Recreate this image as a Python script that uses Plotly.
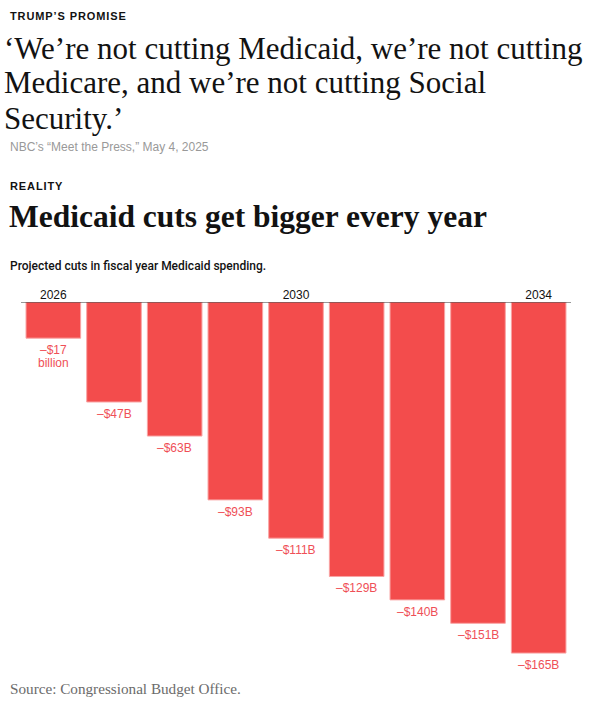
import plotly.graph_objects as go

# ---- data ----
years = [2026, 2027, 2028, 2029, 2030, 2031, 2032, 2033, 2034]
cuts = [-17, -47, -63, -93, -111, -129, -140, -151, -165]  # billions of dollars
bar_labels = [["–$17", "billion"], ["–$47B"], ["–$63B"], ["–$93B"], ["–$111B"],
              ["–$129B"], ["–$140B"], ["–$151B"], ["–$165B"]]
tick_years = [2026, 2030, 2034]

kicker1 = "TRUMP’S PROMISE"
quote_lines = ["‘We’re not cutting Medicaid, we’re not cutting",
               "Medicare, and we’re not cutting Social",
               "Security.’"]
quote_source = "NBC’s “Meet the Press,” May 4, 2025"
kicker2 = "REALITY"
title = "Medicaid cuts get bigger every year"
subtitle = "Projected cuts in fiscal year Medicaid spending."
source = "Source: Congressional Budget Office."

# ---- layout geometry ----
W, H = 589, 703
L, R, T, B = 23, 20, 302, 18
BAR = "#f34c4c"
LABEL = "#ef4f57"
SANS = "Liberation Sans, Arial, sans-serif"
SERIF = "Liberation Serif, Times New Roman, serif"


def px_x(x):
    return (x - L) / (W - L - R)


def px_y(y):
    return (H - B - y) / (H - T - B)


fig = go.Figure()
fig.add_trace(go.Bar(
    x=years, y=cuts, width=0.9,
    marker=dict(color=BAR, line=dict(color="#f9a4a4", width=1)),
    hoverinfo="skip",
))

ann = []


def text(x, y, s, size, family, color="#121212", weight="normal", spacing=None):
    if spacing:
        s = '<span style="letter-spacing:%spx">%s</span>' % (spacing, s)
    ann.append(dict(x=px_x(x), y=px_y(y), xref="paper", yref="paper", text=s,
                    showarrow=False, xanchor="left", yanchor="middle", borderpad=0,
                    font=dict(size=size, family=family, color=color, weight=weight)))


text(9, 16, kicker1, 11, SANS, weight="bold", spacing=0.9)
for i, line in enumerate(quote_lines):
    text(3, 48 + i * 35, line, 31, SERIF)
text(9, 147, quote_source, 12, SANS, color="#999999")
text(9, 186, kicker2, 11, SANS, weight="bold", spacing=0.9)
text(8, 217, title, 31.5, SERIF, weight="bold")
text(9, 266, subtitle, 12, "Roboto, " + SANS, weight=500)
text(9, 688, source, 15.2, SERIF, color="#6b6b6b")

for yr, v, lines in zip(years, cuts, bar_labels):
    for j, s in enumerate(lines):
        ann.append(dict(x=yr, y=v, xref="x", yref="y", text=s, showarrow=False,
                        xanchor="center", yanchor="middle", yshift=-12 - 12.7 * j,
                        font=dict(size=12, family=SANS, color=LABEL)))

fig.update_layout(
    width=W, height=H, autosize=False,
    margin=dict(l=L, r=R, t=T, b=B, pad=0),
    paper_bgcolor="white", plot_bgcolor="white",
    showlegend=False,
    annotations=ann,
    xaxis=dict(range=[2025.5, 2034.5], side="top", tickvals=tick_years,
               ticktext=[str(t) for t in tick_years], showgrid=False, zeroline=False,
               showline=False, ticks="", tickfont=dict(size=12, family=SANS, color="#121212"),
               fixedrange=True),
    yaxis=dict(range=[-180, 0], visible=False, fixedrange=True),
    shapes=[dict(type="line", xref="paper", yref="y", x0=-2 / (W - L - R), x1=1 + 2 / (W - L - R),
                 y0=0, y1=0, line=dict(color="#333333", width=1.2), layer="above")],
)

fig.write_html("out.html", config={"displayModeBar": False},
               post_script="document.body.style.margin='0';")
